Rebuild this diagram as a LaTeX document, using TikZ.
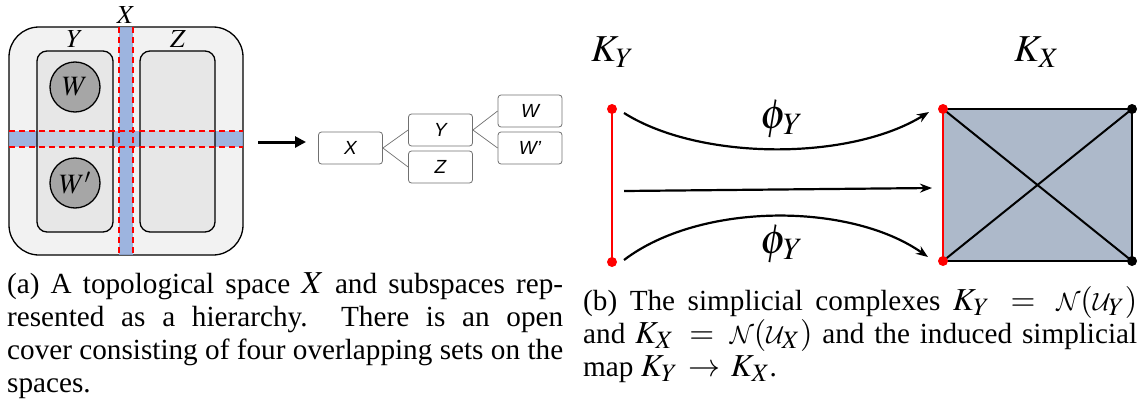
\documentclass[tikz,border=0pt]{standalone}
\usepackage{mathptmx}
\usepackage[no-math]{fontspec}
\setmainfont{Liberation Serif}
\newfontfamily\arialfont{Liberation Sans}
\DeclareMathAlphabet{\mathcal}{OMS}{cmsy}{m}{n}
\DeclareMathSizes{29.2}{32}{25}{19}
\usetikzlibrary{arrows.meta}
\definecolor{outerg}{HTML}{F2F2F2}
\definecolor{innerg}{HTML}{E0E0E0}
\definecolor{circg}{HTML}{A6A6A6}
\definecolor{bandb}{HTML}{8FAADC}
\definecolor{sqfill}{HTML}{ADB9CA}
\definecolor{boxgray}{HTML}{707070}
\tikzset{
  setline/.style={draw=black, line width=1.3},
  band/.style={fill=bandb, fill opacity=0.85},
  reddash/.style={draw=red, line width=1.3, dash pattern=on 6pt off 4pt},
  sublabel/.style={font=\fontsize{26}{26}\selectfont, inner sep=0},
  circlabel/.style={circle, setline, fill=circg, minimum size=50, inner sep=0, font=\fontsize{28}{28}\selectfont},
  tbox/.style={draw=boxgray, rounded corners=3, minimum width=64, minimum height=32, inner sep=0, line width=0.8, font=\arialfont\itshape\fontsize{19}{19}\selectfont},
  tlink/.style={draw=boxgray, line width=0.7},
  rdot/.style={circle, fill=red, inner sep=0, minimum size=10},
  bdot/.style={circle, fill=black, inner sep=0, minimum size=10},
  maparrow/.style={line width=2.2, -{Stealth[length=12,width=9]}},
  philabel/.style={font=\fontsize{42}{42}\selectfont, inner sep=0},
  klabel/.style={font=\fontsize{38}{38}\selectfont, inner sep=0, anchor=base west},
  captext/.style={inner sep=0, anchor=base west, align=justify, font=\fontsize{29.2}{33.3}\selectfont}
}
\begin{document}
\begin{tikzpicture}[x=1pt,y=-1pt]
\useasboundingbox (0,0) rectangle (1139,412);
% ---------- (a) space ----------
\draw[setline, fill=outerg, rounded corners=30] (9,27) rectangle (243,255);
\fill[band] (9,131) rectangle (243,147);
\fill[band] (119,27) rectangle (133,255);
\draw[setline, fill=innerg, fill opacity=0.6, rounded corners=10] (37,51) rectangle (113,232);
\draw[setline, fill=innerg, fill opacity=0.6, rounded corners=10] (140,51) rectangle (215,232);
\node[circlabel] (w) at (75,87) {$W$};
\node[circlabel] (w2) at (75,183) {$W'$};
\draw[reddash] (9,131) -- (243,131);
\draw[reddash] (9,147) -- (243,147);
\draw[reddash] (119,27) -- (119,255);
\draw[reddash] (133,27) -- (133,255);
\node[sublabel] (lx) at (126,15) {$X$};
\node[sublabel] (ly) at (75,39) {$Y$};
\node[sublabel] (lz) at (178,39) {$Z$};
% arrow
\coordinate (a0) at (258,142);
\coordinate (a1) at (306,142);
\draw[line width=3, -{Triangle[length=11,width=11]}] (a0) -- (a1);
% tree
\node[tbox] (tx) at (350.5,148) {X};
\node[tbox] (ty) at (440.5,130) {Y};
\node[tbox] (tz) at (440.5,167) {Z};
\node[tbox] (tw) at (530,111) {W};
\node[tbox] (tw2) at (530,148) {W’};
\draw[tlink] (tx.east) -- (ty.west);
\draw[tlink] (tx.east) -- (tz.west);
\draw[tlink] (ty.east) -- (tw.west);
\draw[tlink] (ty.east) -- (tw2.west);
% ---------- (b) complexes ----------
\coordinate (a) at (612,109);
\coordinate (b) at (612,262);
\coordinate (c) at (943,109);
\coordinate (d) at (943,261);
\coordinate (e) at (1132,109);
\coordinate (f) at (1132,261);
\fill[sqfill] (c) rectangle (f);
\draw[line width=2] (c) -- (e) -- (f) -- (d);
\draw[line width=2] (c) -- (f);
\draw[line width=2] (d) -- (e);
\draw[line width=2, red] (c) -- (d);
\draw[line width=2, red] (a) -- (b);
\node[rdot] (adot) at (a) {};
\node[rdot] (bdot) at (b) {};
\node[rdot] (cdot) at (c) {};
\node[rdot] (ddot) at (d) {};
\node[bdot] (edot) at (e) {};
\node[bdot] (fdot) at (f) {};
\coordinate (p1) at (624,113);
\coordinate (q1) at (929,112);
\coordinate (p2) at (624,191);
\coordinate (q2) at (932,188);
\coordinate (p3) at (624,260);
\coordinate (q3) at (928,257);
\draw[maparrow] (p1) .. controls (700,161) and (850,161) .. (q1);
\draw[maparrow] (p2) -- (q2);
\draw[maparrow] (p3) .. controls (700,202) and (850,202) .. (q3);
\node[philabel] (phi1) at (782,119) {$\phi_Y$};
\node[philabel] (phi2) at (782,244) {$\phi_Y$};
\node[klabel] (ky) at (591,62) {$K_Y$};
\node[klabel] (kx) at (1014,62) {$K_X$};
% ---------- captions ----------
\node[captext, text width=556] (capa) at (7,293) {\tolerance=9999\emergencystretch=20pt (a) A topological space $X$ and subspaces rep-\linebreak resented as a hierarchy.\ \ There is an open\linebreak cover consisting of four overlapping sets on the\linebreak spaces.};
\node[captext, text width=554] (capb) at (583,310) {\tolerance=9999\emergencystretch=20pt\thickmuskip=6mu plus 4mu (b) The simplicial complexes $K_Y = \mathcal{N}(\mathcal{U}_Y)$\linebreak and $K_X = \mathcal{N}(\mathcal{U}_X)$ and the induced simplicial\linebreak map $K_Y \to K_X$.};
\end{tikzpicture}
\end{document}
